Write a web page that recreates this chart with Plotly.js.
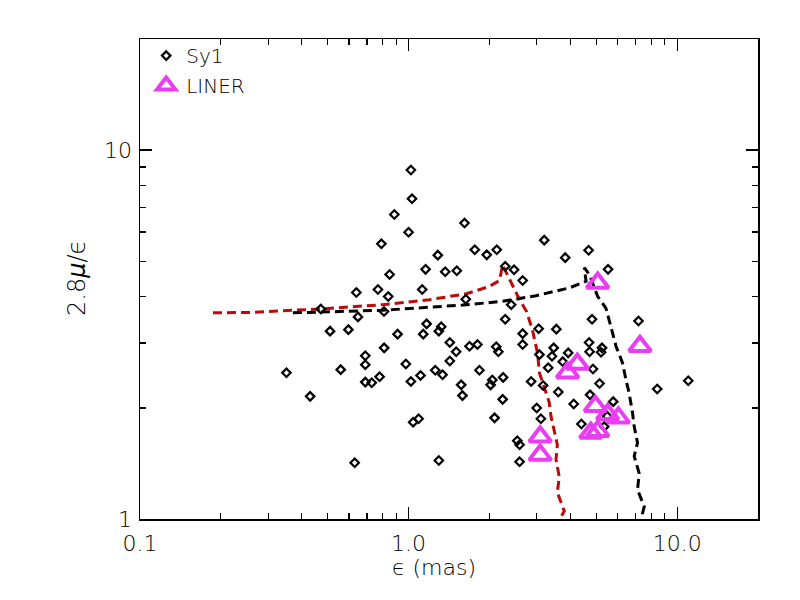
<!DOCTYPE html>
<html>
<head>
<meta charset="utf-8">
<script src="https://cdn.plot.ly/plotly-3.0.1.min.js"></script>
<style>
  html, body { margin:0; padding:0; background:#fff; }
  #chart { width:800px; height:600px; }
</style>
</head>
<body>
<div id="chart"></div>
<script>
// ── Data ─────────────────────────────────────────────────
const SY1_X = [1.02,1.03,0.885,1.615,1.00,0.792,1.764,1.955,2.13,1.285,
  1.157,1.369,1.512,0.850,0.639,0.769,0.840,1.124,1.633,0.471,
  0.648,0.810,0.510,0.597,0.910,1.167,1.134,1.323,1.296,1.424,
  1.686,1.805,2.12,2.16,0.811,1.504,0.690,0.690,0.977,1.424,
  0.351,0.559,0.690,0.729,0.780,1.02,1.108,1.257,1.338,1.836,
  1.570,1.587,2.05,2.02,0.430,1.04,1.09,2.09,0.630,1.296,
  3.20,4.68,3.83,5.53,2.29,2.47,2.66,2.41,2.29,4.82,
  7.18,3.05,3.55,2.66,2.66,3.47,4.70,4.72,5.25,5.21,
  3.93,3.42,3.07,3.75,3.31,4.86,2.25,2.86,3.17,5.14,
  3.61,2.24,4.12,4.74,5.78,3.00,3.11,4.40,5.49,5.35,
  2.54,2.59,2.59,8.43,11.0];
const SY1_Y = [8.83,7.38,6.69,6.34,5.99,5.57,5.37,5.20,5.37,5.19,
  4.75,4.68,4.71,4.60,4.11,4.19,4.01,4.19,3.94,3.71,
  3.53,3.65,3.23,3.26,3.17,3.38,3.17,3.32,3.23,3.01,
  2.94,2.97,2.93,2.84,2.91,2.84,2.77,2.62,2.63,2.68,
  2.49,2.54,2.35,2.34,2.43,2.36,2.45,2.53,2.46,2.53,
  2.31,2.16,2.38,2.31,2.15,1.83,1.87,1.88,1.42,1.44,
  5.70,5.35,5.11,4.75,4.84,4.74,4.43,3.81,3.48,3.48,
  3.44,3.28,3.27,3.18,2.97,2.91,3.01,2.84,2.91,2.83,
  2.82,2.76,2.79,2.67,2.57,2.55,2.42,2.36,2.30,2.33,
  2.21,2.11,2.05,2.17,2.08,2.00,1.87,1.81,1.90,1.78,
  1.63,1.59,1.43,2.25,2.37];

const LINER_X = [5.06,7.27,4.25,3.91,4.96,5.51,6.04,4.77,5.06,3.09,3.09];
const LINER_Y = [4.36,2.94,2.63,2.49,2.02,1.92,1.88,1.71,1.73,1.67,1.49];

const RED_X = [0.187,0.256,0.471,0.800,1.197,1.643,2.00,2.18,2.24,2.29,
  2.37,2.48,2.59,2.75,2.89,2.97,3.02,3.07,3.20,3.34,
  3.39,3.49,3.58,3.54,3.64,3.58,3.80,3.64];
const RED_Y = [3.62,3.63,3.71,3.81,3.93,4.08,4.27,4.43,4.88,4.71,
  4.46,4.19,3.93,3.65,3.26,3.01,2.82,2.49,2.28,2.07,
  1.90,1.74,1.59,1.45,1.30,1.18,1.05,0.995];

const BLACK_X = [0.371,0.800,1.587,2.24,2.98,3.97,4.58,4.51,4.71,4.87,
  5.06,5.43,5.59,5.75,5.92,6.26,6.45,6.63,6.82,6.92,
  7.12,6.92,7.22,7.12,7.54,7.33];
const BLACK_Y = [3.62,3.68,3.80,3.89,4.03,4.23,4.41,4.80,4.60,4.29,
  4.01,3.73,3.47,3.19,2.94,2.65,2.38,2.19,1.94,1.78,
  1.61,1.48,1.33,1.20,1.08,0.995];

const X_TICKS = [0.1, 1, 10];
const X_TICKTEXT = ['0.1', '1.0', '10.0'];
const X_MINOR = [0.2,0.3,0.4,0.5,0.6,0.7,0.8,0.9,2,3,4,5,6,7,8,9,20];
const Y_TICKS = [1, 10];
const Y_TICKTEXT = ['1', '10'];
const Y_MINOR = [2,3,4,5,6,7,8,9,20];

// ── Styling ──────────────────────────────────────────────
const FONT = { family:'DejaVu Sans', size:22, color:'#000', weight:200 };
const MAGENTA = '#ea3cf0';
const DARKRED = '#bb0a0a';

const axisBase = {
  type:'log', showline:true, linecolor:'#000', linewidth:1.5, mirror:'allticks',
  ticks:'inside', ticklen:12, tickwidth:1.2, tickcolor:'#000',
  showgrid:false, zeroline:false, tickmode:'array', tickfont:FONT,
};

const traces = [
  { type:'scatter', mode:'lines', x:RED_X, y:RED_Y, showlegend:false, hoverinfo:'skip',
    line:{ color:DARKRED, width:3, dash:'9px,5px' } },
  { type:'scatter', mode:'lines', x:BLACK_X, y:BLACK_Y, showlegend:false, hoverinfo:'skip',
    line:{ color:'#000', width:3, dash:'9px,5px' } },
  { type:'scatter', mode:'markers', name:'Sy1', legendgroup:'a', x:SY1_X, y:SY1_Y,
    marker:{ symbol:'diamond-open', size:6.5, color:'#000', line:{ width:2.2 } } },
  { type:'scatter', mode:'markers', name:'LINER', legendgroup:'b', x:LINER_X, y:LINER_Y,
    marker:{ symbol:'triangle-up-open', size:19, color:MAGENTA, line:{ width:4 } } },
];

const layout = {
  width:800, height:600,
  paper_bgcolor:'#fff', plot_bgcolor:'#fff',
  font:FONT,
  margin:{ l:140, r:42, t:39, b:81 },
  xaxis:{ ...axisBase, range:[-1, Math.log10(20)],
    tickvals:X_TICKS, ticktext:X_TICKTEXT, ticklabelstandoff:4,
    minor:{ tickmode:'array', tickvals:X_MINOR, ticks:'inside', ticklen:6, tickwidth:1.2, tickcolor:'#000' } },
  yaxis:{ ...axisBase, range:[0, Math.log10(20)],
    tickvals:Y_TICKS, ticktext:Y_TICKTEXT, ticklabelstandoff:2,
    minor:{ tickmode:'array', tickvals:Y_MINOR, ticks:'inside', ticklen:6, tickwidth:1.2, tickcolor:'#000' } },
  showlegend:true,
  legend:{ x:0.01, y:1.006, xanchor:'left', yanchor:'top', bgcolor:'rgba(0,0,0,0)',
    font:{ ...FONT, size:20 }, tracegroupgap:1, traceorder:'grouped' },
  annotations:[
    { text:'ϵ (mas)', xref:'paper', yref:'paper', x:0.476, y:-0.102,
      xanchor:'center', yanchor:'middle', showarrow:false, font:FONT },
    { text:'2.8<i>μ</i>/ϵ', xref:'paper', yref:'paper', x:-0.102, y:0.502,
      xanchor:'center', yanchor:'middle', textangle:-90, showarrow:false, font:{ ...FONT, size:24 } },
  ],
};

Plotly.newPlot('chart', traces, layout, { displayModeBar:false, staticPlot:true });
</script>
</body>
</html>
